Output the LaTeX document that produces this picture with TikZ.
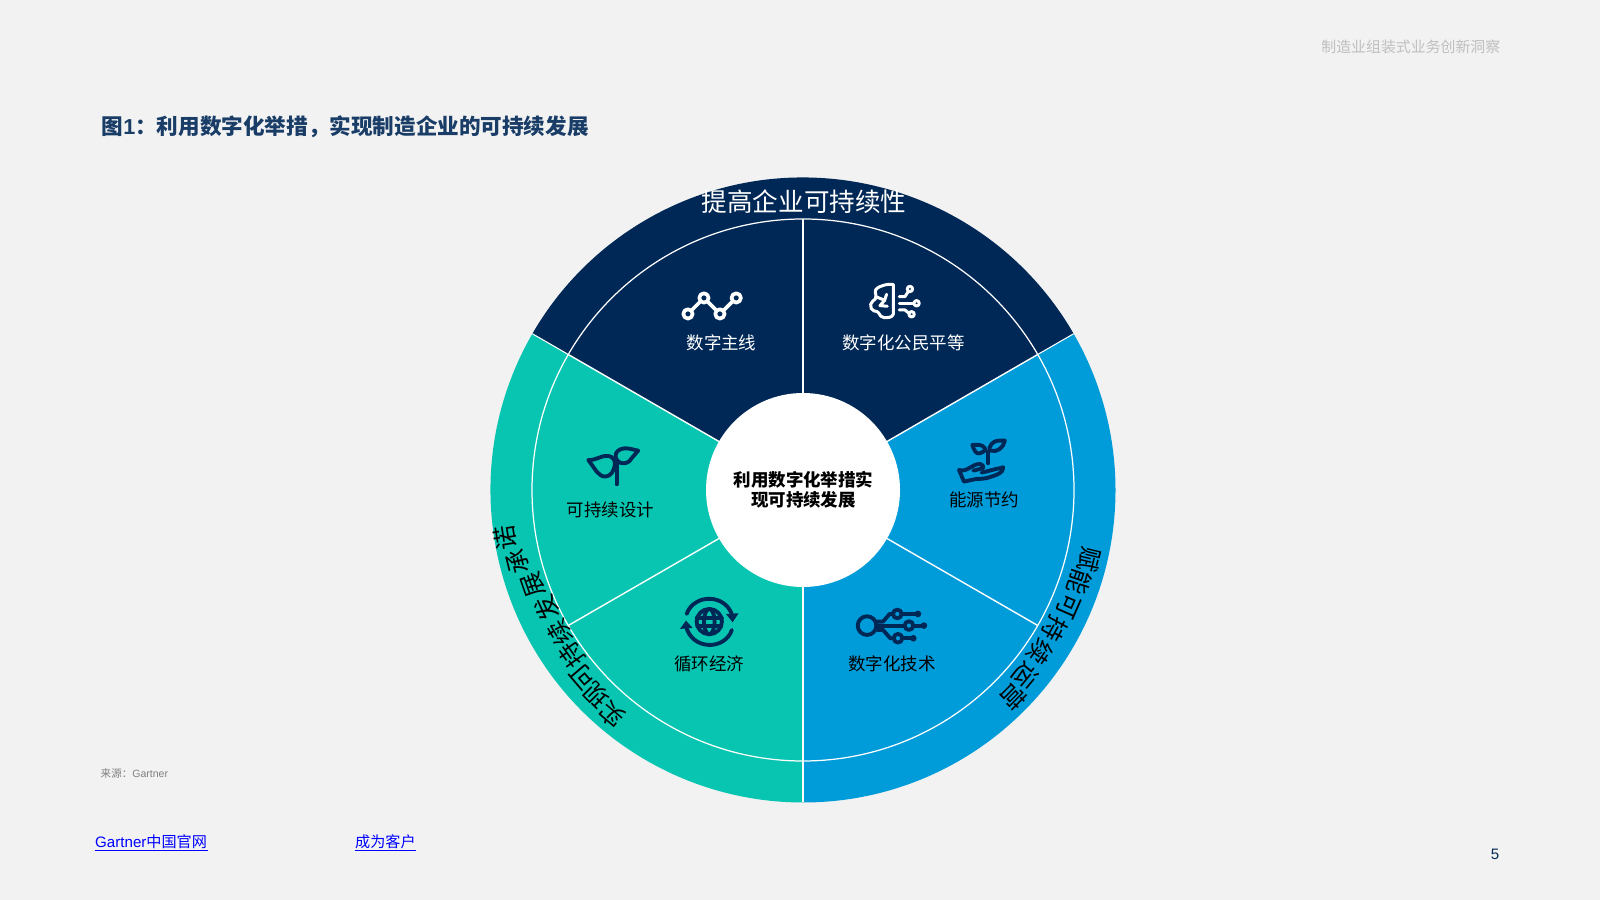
\documentclass[tikz,border=0pt]{standalone}
\usepackage{fontspec}
\setmainfont{Noto Sans CJK SC}
\newfontfamily\latinfont{Liberation Sans}
\usepackage{tikz}
\definecolor{paper}{HTML}{F2F2F2}
\definecolor{navy}{HTML}{002856}
\definecolor{teal}{HTML}{08C5B2}
\definecolor{sky}{HTML}{009BD9}
\newcommand{\fs}[1]{\fontsize{#1pt}{1.15\dimexpr #1pt\relax}\selectfont}
\tikzset{
    label/.style={inner sep=0, font=\fs{4.97}},
    ringchar/.style={inner sep=0, font=\fs{7}},
    iconw/.style={draw=white, line width=1.05pt, line join=round, line cap=round},
    iconn/.style={draw=navy, line width=1.1pt, line join=round, line cap=round},
    linkto/.style={inner sep=0, anchor=west, text=blue, font=\fs{4.3}}
}

\begin{document}
\begin{tikzpicture}[x=0.01cm, y=0.01cm]

    \fill [paper] (0,0) rectangle (1600,900);
    \useasboundingbox (0,0) rectangle (1600,900);

    % wheel
    \begin{scope}[shift={(803,410)}]
        \fill [navy] (0,0) -- (30:312.5) arc (30:150:312.5) -- cycle;
        \fill [teal] (0,0) -- (150:312.5) arc (150:270:312.5) -- cycle;
        \fill [sky] (0,0) -- (270:312.5) arc (270:390:312.5) -- cycle;
        \foreach \a in {30, 150, 270}
            \draw [white, line width=0.3pt] (\a:271) -- (\a:312.5);
        \foreach \a in {30, 90, 150, 210, 270, 330}
            \draw [white, line width=0.4pt] (0,0) -- (\a:271);
        \draw [white, line width=0.35pt] (0,0) circle (271);
        \fill [white] (0,0) circle (97);

        \foreach \c/\x/\y [count=\n] in {实/-191/-225, 现/-206/-205, 可/-220/-187, 持/-231/-165, 续/-243/-143, 发/-256/-118, 展/-270/-95, 承/-285/-72, 诺/-298/-48} {
            \pgfmathsetmacro\a{atan2(\y,\x)}
            \node [ringchar, rotate=\a-90] (green\n) at (\x,\y) {\c};
        }
        \foreach \c/\x/\y [count=\n] in {赋/287/-70, 能/277/-92, 可/265/-116, 持/252/-139, 续/237/-162, 运/222/-185, 营/210/-207} {
            \pgfmathsetmacro\a{atan2(\y,\x)}
            \node [ringchar, rotate=\a-90] (blue\n) at (\x,\y) {\c};
        }
    \end{scope}

    \node [ringchar, text=white, font=\fs{7.28}] (ringtop) at (804,698) {提高企业可持续性};
    \node [label, text=white] (thread) at (721.5,557) {数字主线};
    \node [label, text=white] (citizen) at (903.5,557) {数字化公民平等};
    \node [label] (design) at (610.5,390) {可持续设计};
    \node [label] (energy) at (984,400) {能源节约};
    \node [label] (circular) at (709,236.5) {循环经济};
    \node [label] (tech) at (892,236.5) {数字化技术};
    \node [label, align=center, font=\fs{4.97}\bfseries] (hub) at (803.5,410.5) {利用数字化举措实\\现可持续发展};

    % line chart
    \begin{scope}[shift={(660,630)}, x=0.00333cm, y=-0.00333cm]
        \draw [iconw] (84,132) -- (132,84) -- (180,132) -- (229,84);
        \foreach \x/\y in {84/132, 132/84, 180/132, 229/84}
            \draw [iconw, fill=navy] (\x,\y) circle (14);
    \end{scope}

    % brain
    \begin{scope}[shift={(860,625)}, x=0.00333cm, y=-0.00333cm, iconw/.append style={line width=0.85pt}]
        \draw [iconw] (100,28) to [out=180,in=20] (68,32) to [out=200,in=100] (46,52)
            to [out=280,in=60] (46,72) to [out=240,in=90] (32,88) to [out=270,in=170] (42,108)
            to [out=350,in=120] (56,114) to [out=300,in=180] (72,128) to [out=0,in=250] (100,118) -- cycle;
        \draw [iconw] (50,66) -- (74,76) -- (80,58);
        \draw [iconw] (74,76) -- (60,92) -- (82,94);
        \draw [iconw] (118,65) -- (135,65) -- (145,50);
        \draw [iconw] (118,85) -- (160,85);
        \draw [iconw] (118,105) -- (135,105) -- (147,115);
        \draw [iconw, fill=navy] (150,42) circle (8);
        \draw [iconw, fill=navy] (170,85) circle (8);
        \draw [iconw, fill=navy] (155,118) circle (8);
    \end{scope}

    % sprout
    \begin{scope}[shift={(570,470)}, x=0.00333cm, y=-0.00333cm]
        \draw [iconn] (55,90) to [out=-5,in=175] (115,78) to [out=-5,in=80] (135,105)
            to [out=260,in=0] (105,140) to [out=180,in=-40] (80,125) -- cycle;
        \draw [iconn] (205,62) to [out=170,in=0] (165,55) to [out=180,in=100] (137,80)
            to [out=280,in=180] (160,100) to [out=0,in=240] (185,85) -- cycle;
        \draw [iconn] (140,95) -- (140,163);
    \end{scope}

    % hand with sprout
    \begin{scope}[shift={(940,470)}, x=0.00333cm, y=-0.00333cm]
        \draw [iconn] (145,100) -- (145,65);
        \draw [iconn] (97,45) to [out=0,in=120] (135,55) to [out=300,in=20] (120,70) to [out=200,in=290] (97,45) -- cycle;
        \draw [iconn] (195,32) to [out=180,in=50] (155,42) to [out=230,in=160] (152,62) to [out=340,in=260] (195,32) -- cycle;
        \draw [iconn] (72,155) -- (57,120) to [out=-20,in=180] (120,102) to [out=0,in=60] (130,115) -- (100,122);
        \draw [iconn] (125,128) -- (190,112) to [out=270,in=20] (155,140) to [out=200,in=0] (110,147) -- (72,155);
    \end{scope}

    % globe and arrows
    \begin{scope}[shift={(670,310)}, x=0.00333cm, y=-0.00333cm]
        \draw [iconn] (118,95) circle (38);
        \draw [iconn] (118,95) ellipse (16 and 38);
        \draw [iconn] (80,85) -- (156,85);
        \draw [iconn] (82,108) -- (154,108);
        \draw [iconn] (50,72) .. controls (72,10) and (170,10) .. (188,80);
        \draw [iconn] (186,120) .. controls (165,182) and (65,182) .. (48,108);
        \fill [navy] (168,72) -- (206,70) -- (188,97) -- cycle;
        \fill [navy] (30,117) -- (68,114) -- (48,92) -- cycle;
    \end{scope}

    % circuit
    \begin{scope}[shift={(670,310)}, x=0.00333cm, y=-0.00333cm]
        \draw [iconn] (592,107) circle (28);
        \draw [iconn] (622,95) -- (640,95) -- (660,72) -- (670,72);
        \draw [iconn] (620,107) -- (703,107);
        \draw [iconn] (622,120) -- (640,120) -- (662,145) -- (672,145);
        \draw [iconn] (683,72) circle (13);
        \draw [iconn] (718,107) circle (13);
        \draw [iconn] (685,145) circle (13);
        \draw [iconn] (696,72) -- (745,72);
        \draw [iconn] (731,107) -- (762,107);
        \draw [iconn] (698,145) -- (730,145);
        \fill [navy] (745,72) circle (10);
        \fill [navy] (763,107) circle (10);
        \fill [navy] (731,145) circle (10);
    \end{scope}

    % page texts
    \node [inner sep=0, anchor=east, text=black!25, font=\fs{4.24}] (running) at (1501,853) {制造业组装式业务创新洞察};
    \node [inner sep=0, anchor=west, text=navy!90, font=\fs{6.14}\bfseries] (title) at (101,773.5) {图{\latinfont 1}：利用数字化举措，实现制造企业的可持续发展};
    \node [inner sep=0, anchor=west, text=black!50, font=\fs{3}] (source) at (100,127) {来源：{\latinfont Gartner}};
    \node [linkto] (site) at (94.5,58) {{\latinfont Gartner}中国官网};
    \node [linkto] (client) at (354.5,58) {成为客户};
    \draw [blue, line width=0.3pt] ([yshift=-0.03cm]site.base west) -- ([yshift=-0.03cm]site.base east);
    \draw [blue, line width=0.3pt] ([yshift=-0.03cm]client.base west) -- ([yshift=-0.03cm]client.base east);
    \node [inner sep=0, text=navy, font=\fs{4.3}\latinfont] (page) at (1495,46) {5};

\end{tikzpicture}
\end{document}
